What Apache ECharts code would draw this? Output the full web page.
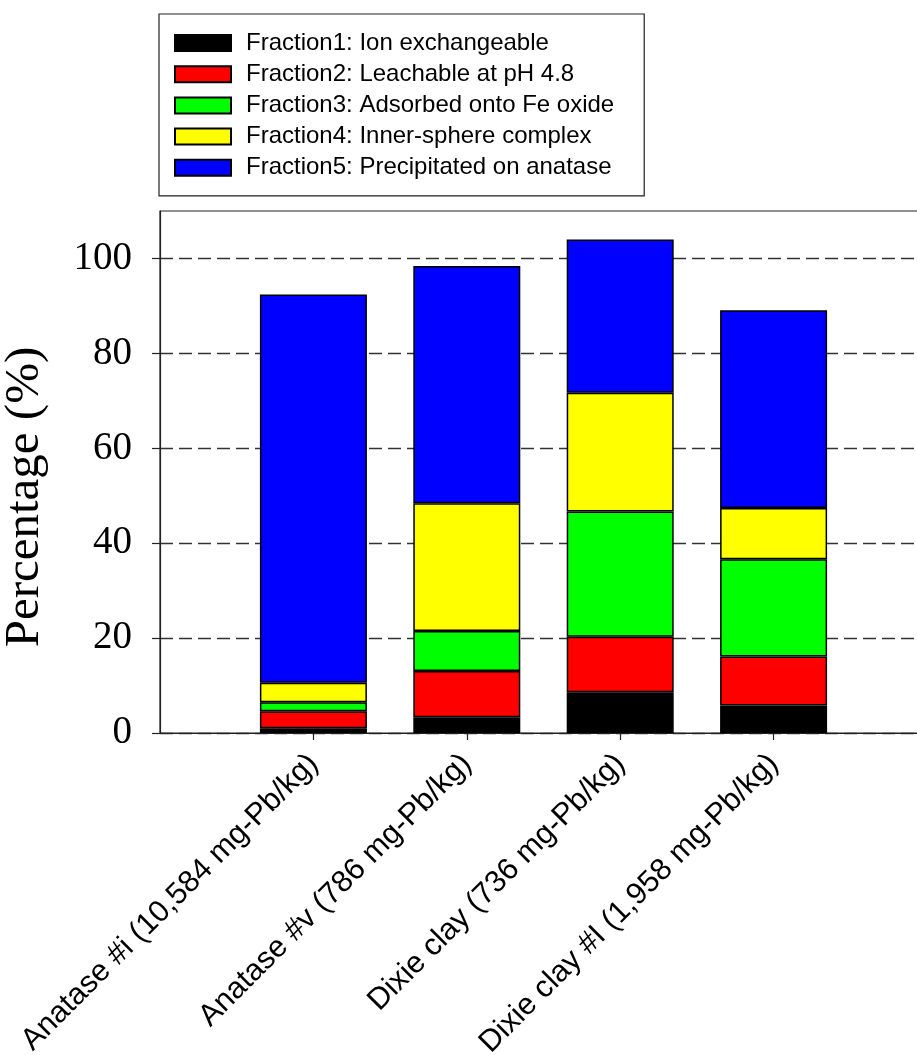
<!DOCTYPE html>
<html>
<head>
<meta charset="utf-8">
<script src="https://cdn.jsdelivr.net/npm/echarts@6/dist/echarts.min.js"></script>
<style>
  html, body { margin: 0; padding: 0; background: #fff; }
  #chart { width: 917px; height: 1055px; }
</style>
</head>
<body>
<div id="chart"></div>
<script>
const categories = [
  "Anatase #i (10,584 mg-Pb/kg)",
  "Anatase #v (786 mg-Pb/kg)",
  "Dixie clay (736 mg-Pb/kg)",
  "Dixie clay #I (1,958 mg-Pb/kg)",
];

const fractionNames = [
  "Fraction1: Ion exchangeable",
  "Fraction2: Leachable at pH 4.8",
  "Fraction3: Adsorbed onto Fe oxide",
  "Fraction4: Inner-sphere complex",
  "Fraction5: Precipitated on anatase",
];
const fractionColors = ["#000000", "#ff0000", "#00ff00", "#ffff00", "#0000ff"];

// percentage of each fraction per sample (stacked)
const fraction1 = [1.0, 3.3, 8.6, 5.8];
const fraction2 = [3.6, 9.75, 11.7, 10.3];
const fraction3 = [1.9, 8.45, 26.4, 20.5];
const fraction4 = [4.1, 26.9, 25.0, 10.8];
const fraction5 = [81.8, 50.0, 32.3, 41.7];

const yTicks = [0, 20, 40, 60, 80, 100];

const chart = echarts.init(document.getElementById("chart"));

// empty slots on both sides so the bars sit one step in from the axis ends
const axisCats = ["", ...categories, ""];
const pad = (arr) => [null, ...arr, null];

const series = [fraction1, fraction2, fraction3, fraction4, fraction5].map((vals, i) => ({
  name: fractionNames[i],
  type: "bar",
  stack: "total",
  barWidth: 107,
  itemStyle: {
    color: fractionColors[i],
    borderColor: "#000",
    borderWidth: 1.5,
  },
  data: pad(vals),
}));

const option = {
  animation: false,
  backgroundColor: "#fff",
  legend: {
    orient: "vertical",
    left: 159,
    top: 14,
    padding: [17, 30, 16, 15],
    borderColor: "#222",
    borderWidth: 1.2,
    itemWidth: 56,
    itemHeight: 16,
    itemGap: 7.2,
    icon: "rect",
    textStyle: {
      fontFamily: "Liberation Sans, Arial, sans-serif",
      fontSize: 24,
      lineHeight: 24,
      color: "#000",
      padding: [0, 0, 0, 10],
    },
    data: fractionNames,
  },
  grid: {
    left: 160,
    top: 211,
    width: 767,
    height: 522,
    show: true,
    borderColor: "#222",
    borderWidth: 1.2,
    outerBoundsMode: "none",
    containLabel: false,
  },
  xAxis: {
    type: "category",
    data: axisCats,
    boundaryGap: false,
    axisLine: { lineStyle: { color: "#222", width: 1.2 } },
    axisTick: {
      length: 7,
      lineStyle: { color: "#222", width: 1.2 },
      interval: (idx, val) => val !== "",
    },
    axisLabel: {
      interval: 0,
      rotate: 45,
      margin: 26,
      fontFamily: "Liberation Sans, Arial, sans-serif",
      fontSize: 30.5,
      color: "#000",
    },
    splitLine: { show: false },
  },
  yAxis: {
    type: "value",
    min: 0,
    max: 110,
    interval: 20,
    name: "Percentage (%)",
    nameLocation: "middle",
    nameGap: 110,
    nameTextStyle: {
      fontFamily: "Liberation Serif, Times New Roman, serif",
      fontSize: 49,
      color: "#000",
      padding: [0, 50, 0, 0],
    },
    axisLine: { show: true, lineStyle: { color: "#222", width: 1.2 } },
    axisTick: {
      show: true,
      length: 8,
      customValues: yTicks,
      lineStyle: { color: "#222", width: 1.2 },
    },
    axisLabel: {
      customValues: yTicks,
      margin: 28,
      fontFamily: "Liberation Serif, Times New Roman, serif",
      fontSize: 39,
      color: "#000",
    },
    splitLine: {
      show: true,
      lineStyle: { color: "#333", width: 1.4, type: [13, 6] },
    },
  },
  series: series,
};

chart.setOption(option);
</script>
</body>
</html>
